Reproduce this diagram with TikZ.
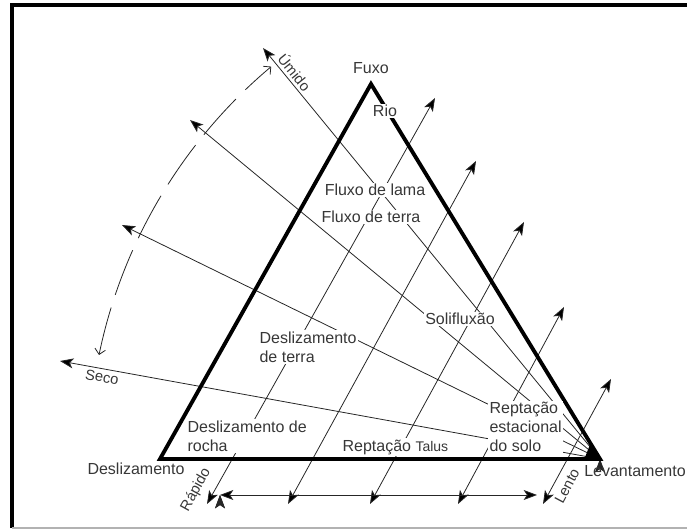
\documentclass[tikz,border=0pt]{standalone}
\usepackage{fontspec}
\setmainfont{Liberation Sans}
\usetikzlibrary{arrows.meta}
\definecolor{txtgray}{RGB}{55,55,55}

\begin{document}
\begin{tikzpicture}[x=0.75pt,y=-0.75pt,>={Stealth[length=10pt,width=7.5pt,inset=2.5pt]},
	every node/.style={text=txtgray,font=\fontsize{12}{14}\selectfont},
	tag/.style={fill=white,inner sep=1pt},
	small/.style={font=\fontsize{11}{13}\selectfont,inner sep=0pt},
	ray/.style={line width=0.6pt,draw=black!85},
	side/.style={line width=2.9pt,line join=miter}]
	\useasboundingbox (0,0) rectangle (687,530);

	% moldura
	\draw[line width=3.5pt] (687,5) -- (12,5) -- (12,528);
	\draw[line width=0.8pt,black!30] (12,528) -- (687,528);

	% vertices do triangulo
	\coordinate (A) at (371,84);
	\coordinate (L) at (160,459);
	\coordinate (R) at (600,459);

	% pontas das setas
	\coordinate (u1) at (263,48);
	\coordinate (u2) at (190,120);
	\coordinate (u3) at (122,225);
	\coordinate (u4) at (60,361);
	\coordinate (d1a) at (207,504); \coordinate (d1b) at (435,98);
	\coordinate (d2a) at (288,504); \coordinate (d2b) at (476,161);
	\coordinate (d3a) at (370,504); \coordinate (d3b) at (524,222);
	\coordinate (d4a) at (458,504); \coordinate (d4b) at (564,307);
	\coordinate (d5a) at (543,504); \coordinate (d5b) at (611,379);
	\coordinate (h1) at (220,495);
	\coordinate (h2) at (537,495);

	\path[ray,->]
	(R) edge (u1)
	(R) edge (u2)
	(R) edge (u3)
	(R) edge (u4);

	\path[ray,<->]
	(d1a) edge (d1b)
	(d2a) edge (d2b)
	(d3a) edge (d3b)
	(d4a) edge (d4b)
	(d5a) edge (d5b)
	(h1) edge (h2);

	% seco - umido
	\draw[ray,dash pattern=on 36pt off 10pt,{Straight Barb[length=4pt]}-{Straight Barb[length=4pt]}]
	(99,355) arc[start angle=191.7,end angle=230,radius=512];

	\draw[side] (L) -- (A) -- (R) -- cycle;
	\fill (584,460) -- (602,460) -- (591,442) -- cycle;

	\node (fuxo) at (371,68) {Fuxo};
	\node[tag] (rio) at (385,111) {Rio};
	\node[tag] (lama) at (375,190) {Fluxo de lama};
	\node[tag] (terra) at (371,217) {Fluxo de terra};
	\node[tag] (soli) at (460,319) {Solifluxão};
	\node[tag,align=left,anchor=west] (dterra) at (258,347) {Deslizamento\\de terra};
	\node[tag,align=left,anchor=west] (drocha) at (186,436) {Deslizamento de\\rocha};
	\node[tag,anchor=west] (rtalus) at (341,447) {Reptação {\fontsize{10.5}{12}\selectfont Talus}};
	\node[tag,align=left,anchor=west] (rsolo) at (488,427) {Reptação\\estacional\\do solo};
	\node (desl) at (136,469) {Deslizamento};
	\node (levant) at (635,471) {Levantamento};
	\node[small,rotate=-51] (umido) at (295,72) {Úmido};
	\node[small,rotate=-10] (seco) at (102,377) {Seco};
	\node[small,rotate=61] (rapido) at (196,490) {Rápido};
	\node[small,rotate=62] (lento) at (567,486) {Lento};
\end{tikzpicture}
\end{document}
